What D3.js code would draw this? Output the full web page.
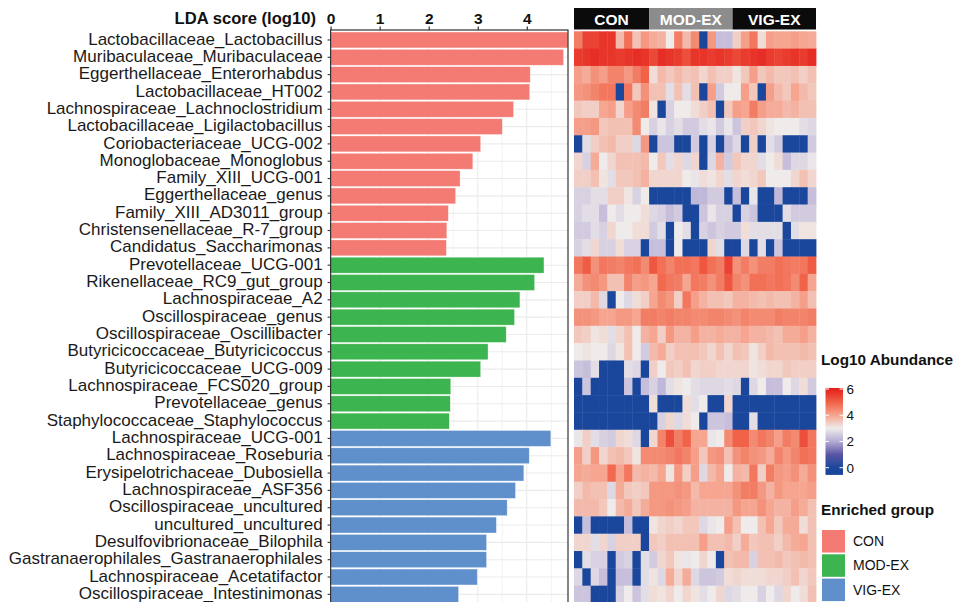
<!DOCTYPE html>
<html lang="en">
<head>
<meta charset="UTF-8">
<title>LDA score with abundance heatmap</title>
<script src="https://d3js.org/d3.v7.min.js"></script>
<style>
  body { margin: 0; background: #fff; }
  svg { display: block; font-family: "Liberation Sans", Arial, sans-serif; }
  .taxon { font-size: 17px; fill: #1a1a1a; }
  .bold { font-weight: bold; }
</style>
</head>
<body>
<svg id="chart" width="960" height="602"></svg>
<script>
// taxa per enriched group, top to bottom
const conTaxa = ["Lactobacillaceae_Lactobacillus", "Muribaculaceae_Muribaculaceae", "Eggerthellaceae_Enterorhabdus",
  "Lactobacillaceae_HT002", "Lachnospiraceae_Lachnoclostridium", "Lactobacillaceae_Ligilactobacillus",
  "Coriobacteriaceae_UCG-002", "Monoglobaceae_Monoglobus", "Family_XIII_UCG-001", "Eggerthellaceae_genus",
  "Family_XIII_AD3011_group", "Christensenellaceae_R-7_group", "Candidatus_Saccharimonas"];
const modTaxa = ["Prevotellaceae_UCG-001", "Rikenellaceae_RC9_gut_group", "Lachnospiraceae_A2",
  "Oscillospiraceae_genus", "Oscillospiraceae_Oscillibacter", "Butyricicoccaceae_Butyricicoccus",
  "Butyricicoccaceae_UCG-009", "Lachnospiraceae_FCS020_group", "Prevotellaceae_genus", "Staphylococcaceae_Staphylococcus"];
const vigTaxa = ["Lachnospiraceae_UCG-001", "Lachnospiraceae_Roseburia", "Erysipelotrichaceae_Dubosiella",
  "Lachnospiraceae_ASF356", "Oscillospiraceae_uncultured", "uncultured_uncultured", "Desulfovibrionaceae_Bilophila",
  "Gastranaerophilales_Gastranaerophilales", "Lachnospiraceae_Acetatifactor", "Oscillospiraceae_Intestinimonas"];

// LDA scores (log10)
const conLda = [4.84, 4.75, 4.07, 4.06, 3.73, 3.50, 3.06, 2.90, 2.64, 2.55, 2.40, 2.37, 2.36];
const modLda = [4.35, 4.16, 3.86, 3.75, 3.58, 3.21, 3.06, 2.45, 2.44, 2.42];
const vigLda = [4.49, 4.05, 3.94, 3.77, 3.60, 3.38, 3.18, 3.18, 2.99, 2.61];

const groups = ["CON", "MOD-EX", "VIG-EX"];
const groupColors = ["#f37b73", "#3cb44f", "#6090cb"];
const headerColors = ["#0b0b0b", "#8c8c8c", "#0b0b0b"];
const samplesPerGroup = [9, 10, 10];
const ldaTicks = [0, 1, 2, 3, 4];
const abundanceTicks = [0, 2, 4, 6];

// log10 abundance, one row per taxon, one column per sample
const abundance = [
  [4.6,5.5,5.5,5.7,5.7,3.7,4.8,3.6,4.2, 3.9,3.8,3.0,4.6,3.7,4.4,0,4.2,2.3,2.3, 3.4,4.1,4.7,3.2,4.1,4.0,4.0,4.1,4.0,3.9],
  [5.6,5.7,5.8,5.7,5.7,5.6,5.7,5.8,5.7, 5.4,5.8,5.7,5.6,5.3,5.7,5.7,5.6,5.7,5.6, 5.4,5.6,5.7,5.8,5.6,5.5,5.6,5.7,5.6,5.8],
  [4.1,3.9,4.3,4.1,4.5,4.5,4.2,4.6,5.0, 3.2,3.7,3.5,3.7,3.5,3.6,3.3,3.6,3.4,3.4, 3.1,3.5,4.1,3.5,3.7,3.5,3.5,3.6,3.4,3.6],
  [4.2,4.3,4.5,4.7,4.7,0,4.7,3.5,4.3, 3.6,3.6,2.8,3.6,2.8,3.6,0,4.1,2.5,3.0, 3.0,4.1,3.5,0,4.1,3.7,3.5,4.0,3.7,3.5],
  [3.5,3.4,3.4,4.0,4.1,3.3,4.1,4.4,4.6, 3.1,0,2.6,3.0,3.0,3.2,3.4,3.6,0,3.5, 4.1,4.0,4.6,4.1,3.9,3.9,3.7,3.8,3.6,3.6],
  [4.1,4.1,4.2,3.5,3.6,3.6,3.6,4.4,3.0, 2.6,2.9,2.6,2.8,2.5,2.5,2.8,2.9,2.5,2.9, 2.4,3.4,3.5,3.3,3.1,3.0,3.0,3.0,2.8,2.7],
  [0,2.8,3.4,3.6,3.7,3.4,3.4,2.7,4.2, 0,2.4,2.4,0,0,2.5,0,2.6,0,2.3, 2.7,0,3.4,0,2.8,2.5,0,0,0,2.5],
  [3.3,2.6,3.9,3.0,3.3,3.6,3.6,3.6,3.7, 3.0,3.5,2.8,3.3,2.7,3.3,0,2.7,3.8,2.5, 3.5,3.3,3.3,2.8,3.0,3.2,2.3,2.7,2.7,2.9],
  [3.4,3.4,3.6,3.1,2.8,3.5,3.5,3.6,3.8, 3.3,3.3,3.3,3.3,3.0,2.9,3.2,3.1,3.3,2.8, 3.3,3.2,3.3,3.5,3.0,3.0,3.0,3.3,3.6,3.3],
  [2.6,2.6,2.8,2.8,3.4,3.4,3.1,2.6,3.0, 0,0,0,0,0,2.2,2.2,2.5,2.5,0, 2.3,0,2.9,0,0,2.2,0,0,0,2.3],
  [2.6,2.8,2.8,2.3,3.0,2.8,3.0,3.0,3.2, 2.7,2.6,2.3,2.5,0,0,2.4,2.9,2.6,2.6, 0,2.6,2.4,0,0,0,2.8,2.5,2.5,2.5],
  [2.5,2.5,2.8,2.6,3.3,3.0,3.0,3.2,3.2, 2.5,2.8,0,3.0,2.8,0,2.6,2.4,2.6,2.5, 2.5,3.2,2.8,2.8,2.8,2.8,0,2.8,3.1,3.1],
  [2.6,2.8,3.3,2.6,2.6,3.2,2.6,2.6,0, 2.3,2.3,0,3.0,0,0,0,3.3,2.8,0, 0,2.7,0,2.8,0,2.4,0,0,0,0],
  [4.7,5.1,4.3,4.7,4.6,4.5,4.7,4.8,4.4, 5.2,4.8,4.5,4.8,4.8,4.7,5.2,4.8,4.6,5.5, 4.3,4.6,4.3,4.6,4.6,4.8,4.7,4.6,4.7,5.1],
  [3.9,4.3,4.4,4.2,3.6,3.6,4.5,4.1,4.2, 4.0,4.9,4.7,4.6,4.0,4.7,4.6,4.3,4.6,5.2, 4.5,4.3,4.8,4.8,4.7,4.8,4.7,4.4,5.0,4.0],
  [3.4,3.4,3.7,2.7,0,3.0,2.7,3.2,3.4, 4.0,4.4,4.2,3.4,4.7,4.1,3.8,3.6,3.6,3.5, 3.8,3.8,3.7,3.6,3.7,3.6,3.6,3.8,4.1,3.6],
  [4.3,4.3,4.2,4.0,4.0,4.2,4.2,4.0,4.6, 4.6,4.5,4.6,4.5,4.5,4.4,4.4,4.5,4.5,4.4, 4.3,4.5,4.4,4.4,4.4,4.6,4.5,4.5,4.5,4.6],
  [3.5,3.4,3.1,3.2,2.8,3.3,3.6,3.0,3.8, 4.0,3.4,4.2,3.8,3.8,4.1,3.8,3.8,3.9,3.8, 3.8,4.0,3.8,3.8,3.7,3.6,3.9,3.9,4.1,3.8],
  [3.0,3.1,3.0,3.0,2.7,3.1,3.6,3.0,2.5, 3.7,3.9,3.4,3.6,3.6,3.6,3.5,3.3,3.6,3.3, 3.6,3.5,3.1,3.4,3.7,3.6,3.6,3.6,3.7,3.6],
  [2.4,2.3,2.8,0,0,0,2.8,2.7,0, 3.4,3.0,3.5,3.4,3.6,3.3,3.4,3.4,3.3,3.3, 3.3,3.3,3.1,3.2,3.3,3.3,3.5,3.4,3.4,3.4],
  [0,2.4,0,0,0,0,2.4,0,2.3, 2.6,2.2,2.8,3.1,3.0,2.8,2.7,2.7,2.7,2.8, 2.7,0,2.7,3.0,2.3,2.3,3.0,2.7,3.2,2.5],
  [0,0,0,0,0,0,0,0,0, 3.2,0,0,0,3.2,2.8,3.0,0,0,3.3, 0,0,0,0,0,0,0,0,0,0],
  [0,0,0,0,0,0,0,0,0, 0,2.6,3.3,2.7,3.2,3.0,0,2.4,2.4,2.3, 0,0,2.8,0,0,0,0,0,0,0],
  [2.9,3.4,2.8,2.6,2.5,3.3,3.2,2.7,0, 3.3,4.5,5.3,4.6,5.0,4.0,4.0,2.9,3.0,4.4, 5.0,5.0,4.4,4.7,4.5,4.1,4.6,4.4,5.3,4.7],
  [4.1,3.4,4.2,3.3,3.6,3.7,3.5,3.1,4.4, 4.4,4.4,4.5,4.7,4.5,4.1,3.5,4.2,4.3,3.6, 4.3,4.5,4.3,4.2,3.9,4.5,4.2,4.5,4.8,4.7],
  [4.0,3.9,4.0,4.0,4.9,4.0,4.7,3.7,3.8, 3.7,4.0,3.1,4.2,3.4,4.1,2.7,3.7,4.0,3.0, 3.8,3.7,4.7,3.4,4.6,4.2,4.1,4.3,3.9,4.3],
  [3.4,3.7,3.6,3.6,2.7,3.9,3.5,3.4,3.5, 4.2,4.2,4.2,4.3,4.2,3.7,4.0,4.0,4.0,4.0, 4.3,4.6,4.6,4.2,3.8,4.2,4.0,4.0,4.0,4.1],
  [3.7,3.7,3.7,3.5,3.0,3.7,3.9,3.5,3.9, 4.2,4.2,4.3,4.2,4.1,3.8,3.8,3.8,3.8,3.8, 4.2,4.0,4.0,4.3,4.0,3.8,3.8,4.1,3.9,3.6],
  [0,2.3,0,0,0,0,2.3,0,0, 3.1,3.3,3.4,3.3,3.5,3.5,2.7,2.9,3.0,4.1, 3.6,3.0,3.0,3.6,4.0,3.5,3.9,3.9,3.2,3.6],
  [3.3,3.3,2.8,3.3,2.6,3.4,3.4,3.4,0, 3.5,3.4,3.6,3.6,3.6,3.6,4.1,3.6,3.6,3.7, 3.4,3.9,3.5,3.6,3.6,3.4,3.7,3.9,4.0,3.6],
  [0,2.8,2.6,2.6,0,2.5,2.6,0,2.8, 2.5,3.3,3.5,3.1,2.9,3.0,3.3,3.0,0,3.6, 3.7,3.7,2.6,3.6,3.6,3.7,3.5,3.6,3.7,3.6],
  [2.7,0,2.7,2.3,0,2.3,2.3,0,2.8, 3.1,2.7,3.9,3.3,3.9,2.7,2.4,2.4,2.5,3.2, 3.3,3.2,3.2,3.2,3.3,3.3,3.4,3.6,3.3,3.5],
  [2.4,2.4,0,0,0,2.6,3.0,2.4,2.8, 3.2,3.1,3.3,3.0,3.3,3.1,2.8,3.0,3.3,2.7, 2.8,3.0,3.0,2.6,3.0,2.7,3.3,3.0,3.2,3.6]
];

const taxa = conTaxa.concat(modTaxa, vigTaxa);
const lda = conLda.concat(modLda, vigLda);
const taxonGroup = [].concat(conTaxa.map(() => 0), modTaxa.map(() => 1), vigTaxa.map(() => 2));
const nSamples = d3.sum(samplesPerGroup);

const svg = d3.select("#chart");

const x = d3.scaleLinear().domain([0, d3.max(lda)]).range([330.6, 568]);
const y = d3.scaleBand().domain(taxa).range([31.3, 603]);

const heatColor = d3.scaleLinear()
  .domain([0, 1, 2, 3, 4, 5, 6])
  .range(["#1a479c", "#5a55a3", "#b4abd4", "#efebea", "#f5a590", "#f06348", "#e4211d"])
  .clamp(true);

// ---- bar panel ----
const panel = svg.append("g");

// grid lines
panel.selectAll(".vgrid")
  .data(x.ticks(10))
  .enter().append("line")
  .attr("x1", d => x(d)).attr("x2", d => x(d))
  .attr("y1", 30).attr("y2", 602)
  .attr("stroke", "#ebebeb")
  .attr("stroke-width", d => Number.isInteger(d) ? 1.1 : 0.6);

panel.selectAll(".hgrid")
  .data(taxa)
  .enter().append("line")
  .attr("x1", x(0)).attr("x2", x.range()[1])
  .attr("y1", d => y(d) + y.bandwidth() / 2)
  .attr("y2", d => y(d) + y.bandwidth() / 2)
  .attr("stroke", "#ebebeb")
  .attr("stroke-width", 1.1);

panel.selectAll(".bar")
  .data(taxa)
  .enter().append("rect")
  .attr("x", x(0))
  .attr("y", d => y(d) + 0.7)
  .attr("width", (d, i) => x(lda[i]) - x(0))
  .attr("height", y.bandwidth() - 1.4)
  .attr("fill", (d, i) => groupColors[taxonGroup[i]])
  .attr("stroke", "rgba(255,255,255,0.6)")
  .attr("stroke-width", 0.6);

// panel border
panel.append("rect")
  .attr("x", x(0)).attr("y", 30)
  .attr("width", x.range()[1] - x(0))
  .attr("height", 580)
  .attr("fill", "none")
  .attr("stroke", "#333")
  .attr("stroke-width", 1.2);

// top axis
const topAxis = svg.append("g")
  .attr("transform", "translate(0,30)")
  .call(d3.axisTop(x).tickValues(ldaTicks).tickSize(3.5).tickPadding(3).tickFormat(d3.format("d")));
topAxis.select(".domain").remove();
topAxis.selectAll("line").attr("stroke", "#333").attr("stroke-width", 1.2);
topAxis.selectAll("text")
  .attr("class", "bold")
  .style("font-size", "15.5px")
  .attr("fill", "#111")
  .attr("font-family", null);

svg.append("text")
  .attr("class", "bold")
  .attr("x", 316).attr("y", 24)
  .attr("text-anchor", "end")
  .style("font-size", "16.6px")
  .attr("fill", "#111")
  .text("LDA score (log10)");

// left axis with taxon names
const leftAxis = svg.append("g")
  .attr("transform", `translate(${x(0)},0)`)
  .call(d3.axisLeft(y).tickSize(3).tickPadding(5));
leftAxis.select(".domain").remove();
leftAxis.selectAll("line").attr("stroke", "#333").attr("stroke-width", 1.1);
leftAxis.selectAll("text")
  .attr("class", "taxon")
  .attr("dy", "0.27em")
  .attr("font-family", null)
  .attr("font-size", null);

// ---- heatmap ----
const xs = d3.scaleBand().domain(d3.range(nSamples)).range([574, 816]);

const heat = svg.append("g");
abundance.forEach((row, i) => {
  heat.selectAll(null)
    .data(row)
    .enter().append("rect")
    .attr("x", (d, j) => xs(j))
    .attr("y", y(taxa[i]))
    .attr("width", xs.bandwidth() + 0.4)
    .attr("height", y.bandwidth() + 0.4)
    .attr("fill", d => heatColor(d));
});

// group header
let start = 0;
groups.forEach((g, k) => {
  const x0 = xs(start);
  const x1 = xs(start + samplesPerGroup[k] - 1) + xs.bandwidth();
  svg.append("rect")
    .attr("x", x0).attr("y", 8)
    .attr("width", x1 - x0).attr("height", 21.5)
    .attr("fill", headerColors[k]);
  svg.append("text")
    .attr("class", "bold")
    .attr("x", (x0 + x1) / 2).attr("y", 24.5)
    .attr("text-anchor", "middle")
    .attr("fill", "#fff")
    .style("font-size", "15.5px")
    .text(g);
  start += samplesPerGroup[k];
});

// ---- legends ----
svg.append("text")
  .attr("class", "bold")
  .attr("x", 821).attr("y", 365)
  .style("font-size", "15.3px")
  .attr("fill", "#111")
  .text("Log10 Abundance");

const cbY = d3.scaleLinear().domain([0, 6]).range([467.7, 389]);
const cbTop = cbY(6.08), cbBottom = cbY(-0.55);
const grad = svg.append("defs").append("linearGradient")
  .attr("id", "abund").attr("x1", 0).attr("x2", 0).attr("y1", 0).attr("y2", 1);
heatColor.domain().slice().reverse().forEach(v => {
  grad.append("stop")
    .attr("offset", (cbY(v) - cbTop) / (cbBottom - cbTop))
    .attr("stop-color", heatColor(v));
});
grad.append("stop").attr("offset", 1).attr("stop-color", heatColor(0));

svg.append("rect")
  .attr("x", 825.5).attr("y", cbTop)
  .attr("width", 17.5).attr("height", cbBottom - cbTop)
  .attr("fill", "url(#abund)");

abundanceTicks.forEach(t => {
  [[825.5, 829], [839.5, 843]].forEach(([a, b]) => {
    svg.append("line")
      .attr("x1", a).attr("x2", b)
      .attr("y1", cbY(t)).attr("y2", cbY(t))
      .attr("stroke", "#fff").attr("stroke-width", 1);
  });
  svg.append("text")
    .attr("x", 846.5).attr("y", cbY(t) + 5)
    .style("font-size", "13.5px")
    .attr("fill", "#111")
    .text(t);
});

svg.append("text")
  .attr("class", "bold")
  .attr("x", 821).attr("y", 515)
  .style("font-size", "15.3px")
  .attr("fill", "#111")
  .text("Enriched group");

groups.forEach((g, k) => {
  const ky = 530 + k * 24.3;
  svg.append("rect")
    .attr("x", 822).attr("y", ky)
    .attr("width", 23).attr("height", 22.5)
    .attr("fill", groupColors[k]);
  svg.append("text")
    .attr("x", 853).attr("y", ky + 16)
    .style("font-size", "14px")
    .attr("fill", "#111")
    .text(g);
});
</script>
</body>
</html>
